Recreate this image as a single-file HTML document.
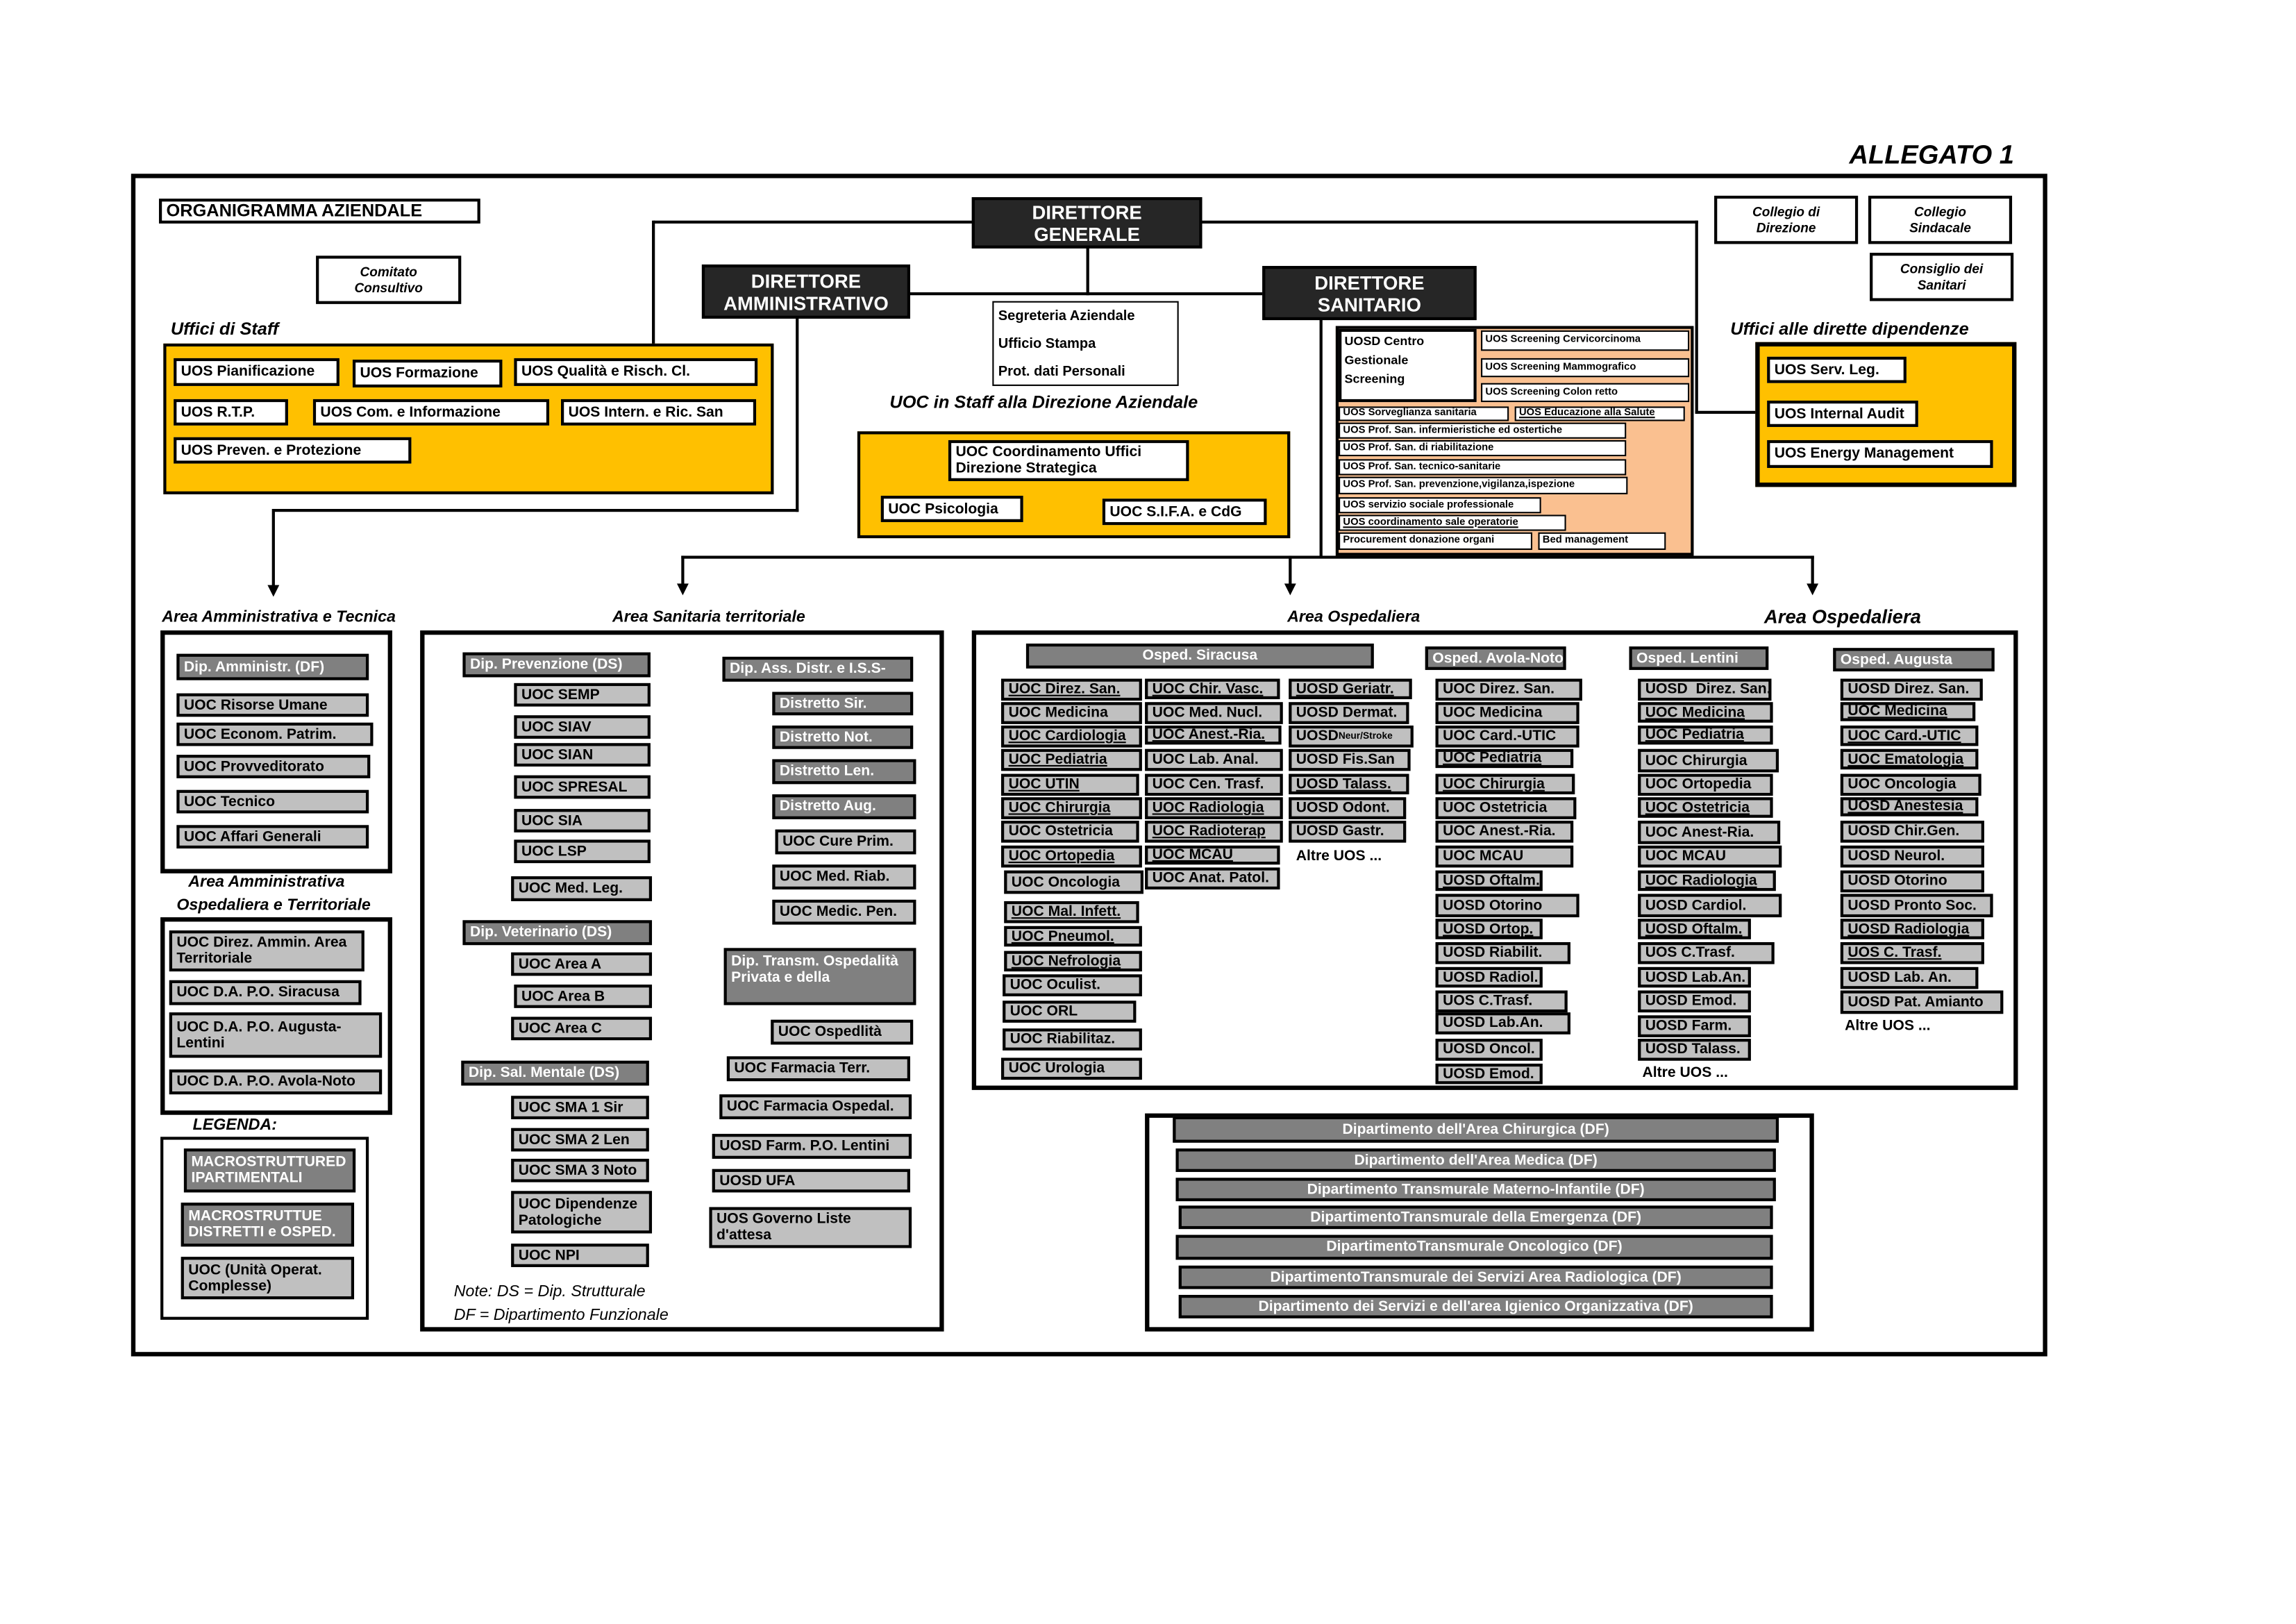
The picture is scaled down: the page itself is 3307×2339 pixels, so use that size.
<!DOCTYPE html>
<html><head><meta charset="utf-8">
<style>
html,body{margin:0;padding:0;width:3307px;height:2339px;overflow:hidden;background:#fff}
#s{position:absolute;left:0;top:0;width:1559px;height:1103px;transform:translate(-3.5px,-2.7px) scale(2.1133,2.108);transform-origin:0 0}
.a{position:absolute;box-sizing:border-box}
.g,.d,.w,.k,.y{position:absolute;box-sizing:border-box;border:2px solid #000;font:bold 10px/11px "Liberation Sans",Arial,sans-serif;padding:0 3px;white-space:nowrap;overflow:hidden;display:flex;align-items:center}
.g{background:#c0c0c0}
.d{background:#808080;color:#fff}
.w{background:#fff}
.k{background:#262626;color:#fff;font-size:13px;line-height:15px;justify-content:center;text-align:center;white-space:normal}
.y{background:#ffc000;border-width:2px;display:block;padding:0}
.c{justify-content:center;text-align:center}
.m{white-space:normal}
.t{position:absolute;font:italic bold 11px/1 "Liberation Sans",Arial,sans-serif;white-space:nowrap}
.l{position:absolute;background:#000}
.s{font-size:7px;line-height:8px;border-width:1.5px;padding:0 2px}
.ar{position:absolute;width:0;height:0;border-left:4px solid transparent;border-right:4px solid transparent;border-top:8px solid #000}
.u{text-decoration:underline}
</style></head><body><div id="s">

<div class="t" style="left:1262px;top:98px;font-size:18px">ALLEGATO 1</div>
<div class="a" style="left:91px;top:120px;width:1306px;height:808px;border:3px solid #000"></div>

<!-- lines -->
<div class="l" style="left:447px;top:152px;width:712px;height:2px"></div>
<div class="l" style="left:446px;top:152px;width:2px;height:86px"></div>
<div class="l" style="left:1157px;top:152px;width:2px;height:132px"></div>
<div class="l" style="left:1157px;top:282px;width:42px;height:2px"></div>
<div class="l" style="left:742px;top:170px;width:2px;height:33px"></div>
<div class="l" style="left:622px;top:201px;width:240px;height:2px"></div>
<div class="l" style="left:544px;top:218px;width:2px;height:133px"></div>
<div class="l" style="left:188px;top:349px;width:358px;height:2px"></div>
<div class="l" style="left:187px;top:349px;width:2px;height:54px"></div>
<div class="ar" style="left:184px;top:401px"></div>
<div class="l" style="left:901px;top:218px;width:2px;height:164px"></div>
<div class="l" style="left:466px;top:381px;width:772px;height:2px"></div>
<div class="l" style="left:466px;top:381px;width:2px;height:20px"></div>
<div class="ar" style="left:463px;top:400px"></div>
<div class="l" style="left:880px;top:381px;width:2px;height:20px"></div>
<div class="ar" style="left:877px;top:400px"></div>
<div class="l" style="left:1236px;top:381px;width:2px;height:20px"></div>
<div class="ar" style="left:1233px;top:400px"></div>

<!-- top -->
<div class="w" style="left:110px;top:137px;width:219px;height:17px;font-size:12px">ORGANIGRAMMA AZIENDALE</div>
<div class="k" style="left:664px;top:136px;width:157px;height:35px">DIRETTORE<br>GENERALE</div>
<div class="w c m" style="left:217px;top:176px;width:99px;height:33px;font-style:italic;font-size:9px">Comitato<br>Consultivo</div>
<div class="w c m" style="left:1170px;top:135px;width:98px;height:33px;font-style:italic;font-size:9px">Collegio di<br>Direzione</div>
<div class="w c m" style="left:1275px;top:135px;width:98px;height:33px;font-style:italic;font-size:9px">Collegio<br>Sindacale</div>
<div class="w c m" style="left:1276px;top:174px;width:98px;height:33px;font-style:italic;font-size:9px">Consiglio dei<br>Sanitari</div>
<div class="k" style="left:480px;top:182px;width:142px;height:37px">DIRETTORE<br>AMMINISTRATIVO</div>
<div class="k" style="left:862px;top:183px;width:146px;height:37px">DIRETTORE<br>SANITARIO</div>
<div class="w m" style="left:678px;top:207px;width:127px;height:58px;font-size:9.5px;line-height:19px;display:block;border-width:1.5px">Segreteria Aziendale<br>Ufficio Stampa<br>Prot. dati Personali</div>
<div class="t" style="left:608px;top:270px;font-size:12px">UOC in Staff alla Direzione Aziendale</div>

<div class="y" style="left:586px;top:296px;width:295px;height:73px"></div>
<div class="w m" style="left:648px;top:302px;width:164px;height:28px">UOC Coordinamento Uffici Direzione Strategica</div>
<div class="w" style="left:602px;top:340px;width:97px;height:18px">UOC Psicologia</div>
<div class="w" style="left:753px;top:342px;width:112px;height:18px">UOC S.I.F.A. e CdG</div>

<div class="t" style="left:118px;top:220px;font-size:12px">Uffici di Staff</div>
<div class="y" style="left:113px;top:236px;width:416px;height:103px"></div>
<div class="w" style="left:120px;top:246px;width:113px;height:19px">UOS Pianificazione</div>
<div class="w" style="left:242px;top:247px;width:102px;height:19px">UOS Formazione</div>
<div class="w" style="left:352px;top:246px;width:166px;height:19px">UOS Qualità e Risch. Cl.</div>
<div class="w" style="left:120px;top:274px;width:78px;height:18px">UOS R.T.P.</div>
<div class="w" style="left:215px;top:274px;width:161px;height:18px">UOS Com. e Informazione</div>
<div class="w" style="left:384px;top:274px;width:133px;height:18px">UOS Intern. e Ric. San</div>
<div class="w" style="left:120px;top:300px;width:162px;height:18px">UOS Preven. e Protezione</div>

<div class="t" style="left:1181px;top:220px;font-size:12px">Uffici alle dirette dipendenze</div>
<div class="y" style="left:1198px;top:235px;width:178px;height:99px;border-width:3px"></div>
<div class="w" style="left:1206px;top:245px;width:95px;height:18px">UOS Serv. Leg.</div>
<div class="w" style="left:1206px;top:275px;width:103px;height:18px">UOS Internal Audit</div>
<div class="w" style="left:1206px;top:302px;width:154px;height:19px">UOS Energy Management</div>

<!-- orange -->
<div class="a" style="left:912px;top:224px;width:244px;height:157px;background:#fac090;border:2px solid #000"></div>
<div class="w m" style="left:914px;top:226px;width:94px;height:50px;font-size:8.5px;line-height:13px;display:block;padding:0 2px">UOSD Centro Gestionale Screening</div>
<div class="w s" style="left:1011px;top:227px;width:142px;height:14px">UOS Screening Cervicorcinoma</div>
<div class="w s" style="left:1011px;top:246px;width:142px;height:13px">UOS Screening Mammografico</div>
<div class="w s" style="left:1011px;top:263px;width:142px;height:13px">UOS Screening Colon retto</div>
<div class="w s" style="left:914px;top:279px;width:116px;height:10px">UOS Sorveglianza sanitaria</div>
<div class="w s u" style="left:1034px;top:279px;width:116px;height:10px">UOS Educazione alla Salute</div>
<div class="w s" style="left:914px;top:290px;width:196px;height:11px">UOS Prof. San. infermieristiche ed ostertiche</div>
<div class="w s" style="left:914px;top:302px;width:196px;height:11px">UOS Prof. San. di riabilitazione</div>
<div class="w s" style="left:914px;top:315px;width:196px;height:11px">UOS Prof. San. tecnico-sanitarie</div>
<div class="w s" style="left:914px;top:327px;width:197px;height:12px">UOS Prof. San. prevenzione,vigilanza,ispezione</div>
<div class="w s" style="left:914px;top:341px;width:138px;height:11px">UOS servizio sociale professionale</div>
<div class="w s u" style="left:914px;top:353px;width:155px;height:11px">UOS coordinamento sale operatorie</div>
<div class="w s" style="left:914px;top:365px;width:132px;height:12px">Procurement donazione organi</div>
<div class="w s" style="left:1050px;top:365px;width:87px;height:12px">Bed management</div>

<!-- area labels -->
<div class="t" style="left:112px;top:418px">Area Amministrativa e Tecnica</div>
<div class="t" style="left:419px;top:418px">Area Sanitaria territoriale</div>
<div class="t" style="left:879px;top:418px">Area Ospedaliera</div>
<div class="t" style="left:1204px;top:416px;font-size:13px">Area Ospedaliera</div>

<!-- left column -->
<div class="a" style="left:111px;top:432px;width:158px;height:166px;border:3px solid #000"></div>
<div class="d" style="left:122px;top:448px;width:131px;height:18px">Dip. Amministr. (DF)</div>
<div class="g" style="left:122px;top:475px;width:131px;height:16px">UOC Risorse Umane</div>
<div class="g" style="left:122px;top:495px;width:134px;height:16px">UOC Econom. Patrim.</div>
<div class="g" style="left:122px;top:517px;width:132px;height:16px">UOC Provveditorato</div>
<div class="g" style="left:122px;top:541px;width:131px;height:16px">UOC Tecnico</div>
<div class="g" style="left:122px;top:565px;width:131px;height:16px">UOC Affari Generali</div>
<div class="t" style="left:130px;top:599px">Area Amministrativa</div>
<div class="t" style="left:122px;top:615px">Ospedaliera e Territoriale</div>
<div class="a" style="left:111px;top:628px;width:158px;height:135px;border:3px solid #000"></div>
<div class="g m" style="left:117px;top:637px;width:133px;height:28px">UOC Direz. Ammin. Area Territoriale</div>
<div class="g" style="left:117px;top:671px;width:131px;height:17px">UOC D.A. P.O. Siracusa</div>
<div class="g m" style="left:117px;top:693px;width:145px;height:31px">UOC D.A. P.O. Augusta-Lentini</div>
<div class="g" style="left:117px;top:732px;width:145px;height:17px">UOC D.A. P.O. Avola-Noto</div>
<div class="t" style="left:133px;top:765px">LEGENDA:</div>
<div class="a" style="left:111px;top:778px;width:142px;height:125px;border:2px solid #000"></div>
<div class="d m" style="left:127px;top:786px;width:117px;height:30px">MACROSTRUTTURED IPARTIMENTALI</div>
<div class="d m" style="left:125px;top:823px;width:118px;height:30px">MACROSTRUTTUE DISTRETTI e OSPED.</div>
<div class="g m" style="left:125px;top:860px;width:118px;height:29px">UOC (Unità Operat. Complesse)</div>

<!-- sanitaria territoriale -->
<div class="a" style="left:288px;top:432px;width:357px;height:479px;border:3px solid #000"></div>
<div class="d" style="left:317px;top:447px;width:128px;height:17px">Dip. Prevenzione (DS)</div>
<div class="g" style="left:352px;top:468px;width:93px;height:16px">UOC SEMP</div>
<div class="g" style="left:352px;top:490px;width:93px;height:16px">UOC SIAV</div>
<div class="g" style="left:352px;top:509px;width:93px;height:16px">UOC SIAN</div>
<div class="g" style="left:352px;top:531px;width:93px;height:16px">UOC SPRESAL</div>
<div class="g" style="left:352px;top:554px;width:93px;height:16px">UOC SIA</div>
<div class="g" style="left:352px;top:575px;width:93px;height:16px">UOC LSP</div>
<div class="g" style="left:350px;top:600px;width:96px;height:17px">UOC Med. Leg.</div>
<div class="d" style="left:317px;top:630px;width:129px;height:17px">Dip. Veterinario (DS)</div>
<div class="g" style="left:350px;top:652px;width:96px;height:16px">UOC Area A</div>
<div class="g" style="left:352px;top:674px;width:94px;height:16px">UOC Area B</div>
<div class="g" style="left:350px;top:696px;width:96px;height:16px">UOC Area C</div>
<div class="d" style="left:316px;top:726px;width:128px;height:17px">Dip. Sal. Mentale (DS)</div>
<div class="g" style="left:350px;top:750px;width:94px;height:16px">UOC SMA 1 Sir</div>
<div class="g" style="left:350px;top:772px;width:94px;height:16px">UOC SMA 2 Len</div>
<div class="g" style="left:350px;top:793px;width:94px;height:16px">UOC SMA 3 Noto</div>
<div class="g m" style="left:350px;top:815px;width:96px;height:29px">UOC Dipendenze Patologiche</div>
<div class="g" style="left:350px;top:851px;width:94px;height:16px">UOC NPI</div>
<div class="t" style="left:311px;top:879px;font-weight:normal">Note: DS = Dip. Strutturale</div>
<div class="t" style="left:311px;top:895px;font-weight:normal">DF = Dipartimento Funzionale</div>

<div class="d" style="left:494px;top:450px;width:130px;height:17px">Dip. Ass. Distr. e I.S.S-</div>
<div class="d" style="left:528px;top:474px;width:96px;height:16px">Distretto Sir.</div>
<div class="d" style="left:528px;top:497px;width:96px;height:16px">Distretto Not.</div>
<div class="d" style="left:528px;top:520px;width:98px;height:17px">Distretto Len.</div>
<div class="d" style="left:528px;top:544px;width:98px;height:17px">Distretto Aug.</div>
<div class="g" style="left:530px;top:568px;width:96px;height:17px">UOC Cure Prim.</div>
<div class="g" style="left:528px;top:592px;width:98px;height:17px">UOC Med. Riab.</div>
<div class="g" style="left:528px;top:616px;width:98px;height:17px">UOC Medic. Pen.</div>
<div class="d m" style="left:495px;top:649px;width:131px;height:39px;align-items:flex-start;padding-top:2px">Dip. Transm. Ospedalità Privata e della</div>
<div class="g" style="left:527px;top:698px;width:97px;height:17px">UOC Ospedlità</div>
<div class="g" style="left:497px;top:723px;width:125px;height:17px">UOC Farmacia Terr.</div>
<div class="g" style="left:492px;top:749px;width:131px;height:17px">UOC Farmacia Ospedal.</div>
<div class="g" style="left:487px;top:776px;width:136px;height:17px">UOSD Farm. P.O. Lentini</div>
<div class="g" style="left:487px;top:800px;width:135px;height:16px">UOSD UFA</div>
<div class="g m" style="left:485px;top:826px;width:138px;height:28px">UOS Governo Liste d'attesa</div>

<!-- ospedaliera -->
<div class="a" style="left:664px;top:432px;width:713px;height:314px;border:3px solid #000"></div>
<div class="d c" style="left:701px;top:441px;width:237px;height:17px">Osped. Siracusa</div>
<div class="d" style="left:973px;top:443px;width:96px;height:16px">Osped. Avola-Noto</div>
<div class="d" style="left:1112px;top:443px;width:95px;height:16px">Osped. Lentini</div>
<div class="d" style="left:1251px;top:444px;width:110px;height:16px">Osped. Augusta</div>

<div class="g u" style="left:684px;top:465px;width:96px;height:15px">UOC Direz. San.</div>
<div class="g" style="left:684px;top:481px;width:96px;height:15px">UOC Medicina</div>
<div class="g u" style="left:684px;top:497px;width:96px;height:15px">UOC Cardiologia</div>
<div class="g u" style="left:684px;top:513px;width:96px;height:15px">UOC Pediatria</div>
<div class="g u" style="left:684px;top:530px;width:94px;height:15px">UOC UTIN</div>
<div class="g u" style="left:684px;top:546px;width:96px;height:15px">UOC Chirurgia</div>
<div class="g" style="left:684px;top:562px;width:94px;height:15px">UOC Ostetricia</div>
<div class="g u" style="left:684px;top:579px;width:96px;height:15px">UOC Ortopedia</div>
<div class="g" style="left:686px;top:596px;width:95px;height:16px">UOC Oncologia</div>
<div class="g u" style="left:686px;top:617px;width:92px;height:15px">UOC Mal. Infett.</div>
<div class="g u" style="left:686px;top:634px;width:94px;height:14px">UOC Pneumol.</div>
<div class="g u" style="left:686px;top:651px;width:94px;height:14px">UOC Nefrologia</div>
<div class="g" style="left:685px;top:667px;width:95px;height:15px">UOC Oculist.</div>
<div class="g" style="left:685px;top:685px;width:91px;height:15px">UOC ORL</div>
<div class="g" style="left:685px;top:704px;width:95px;height:15px">UOC Riabilitaz.</div>
<div class="g" style="left:684px;top:724px;width:96px;height:15px">UOC Urologia</div>

<div class="g u" style="left:782px;top:465px;width:92px;height:14px">UOC Chir. Vasc.</div>
<div class="g" style="left:782px;top:481px;width:94px;height:15px">UOC Med. Nucl.</div>
<div class="g u" style="left:782px;top:497px;width:93px;height:13px">UOC Anest.-Ria.</div>
<div class="g" style="left:782px;top:513px;width:94px;height:15px">UOC Lab. Anal.</div>
<div class="g" style="left:782px;top:530px;width:94px;height:15px">UOC Cen. Trasf.</div>
<div class="g u" style="left:782px;top:546px;width:94px;height:15px">UOC Radiologia</div>
<div class="g u" style="left:782px;top:562px;width:94px;height:15px">UOC Radioterap</div>
<div class="g u" style="left:782px;top:579px;width:92px;height:13px">UOC MCAU</div>
<div class="g" style="left:782px;top:594px;width:92px;height:15px">UOC Anat. Patol.</div>

<div class="g u" style="left:880px;top:465px;width:84px;height:14px">UOSD Geriatr.</div>
<div class="g" style="left:880px;top:481px;width:82px;height:15px">UOSD Dermat.</div>
<div class="g" style="left:880px;top:497px;width:85px;height:15px">UOSD<span style="font-size:6.5px">Neur/Stroke</span></div>
<div class="g" style="left:880px;top:513px;width:83px;height:15px">UOSD Fis.San</div>
<div class="g u" style="left:880px;top:530px;width:82px;height:14px">UOSD Talass.</div>
<div class="g" style="left:880px;top:546px;width:80px;height:15px">UOSD Odont.</div>
<div class="g" style="left:880px;top:562px;width:80px;height:15px">UOSD Gastr.</div>
<div class="t" style="left:885px;top:582px;font-style:normal;font-size:10px">Altre UOS ...</div>

<div class="g" style="left:980px;top:465px;width:100px;height:15px">UOC Direz. San.</div>
<div class="g" style="left:980px;top:481px;width:98px;height:15px">UOC Medicina</div>
<div class="g" style="left:980px;top:497px;width:98px;height:15px">UOC Card.-UTIC</div>
<div class="g u" style="left:980px;top:513px;width:94px;height:13px">UOC Pediatria</div>
<div class="g u" style="left:980px;top:530px;width:95px;height:14px">UOC Chirurgia</div>
<div class="g" style="left:980px;top:546px;width:96px;height:15px">UOC Ostetricia</div>
<div class="g" style="left:980px;top:562px;width:94px;height:15px">UOC Anest.-Ria.</div>
<div class="g" style="left:980px;top:579px;width:94px;height:15px">UOC MCAU</div>
<div class="g u" style="left:980px;top:596px;width:73px;height:14px">UOSD Oftalm.</div>
<div class="g" style="left:980px;top:612px;width:98px;height:16px">UOSD Otorino</div>
<div class="g u" style="left:980px;top:629px;width:73px;height:14px">UOSD Ortop.</div>
<div class="g" style="left:980px;top:645px;width:92px;height:15px">UOSD Riabilit.</div>
<div class="g" style="left:980px;top:662px;width:73px;height:14px">UOSD Radiol.</div>
<div class="g" style="left:980px;top:678px;width:90px;height:15px">UOS C.Trasf.</div>
<div class="g" style="left:980px;top:693px;width:92px;height:15px">UOSD Lab.An.</div>
<div class="g" style="left:980px;top:711px;width:73px;height:15px">UOSD Oncol.</div>
<div class="g" style="left:980px;top:728px;width:73px;height:14px">UOSD Emod.</div>

<div class="g" style="left:1118px;top:465px;width:91px;height:15px">UOSD&nbsp; Direz. San.</div>
<div class="g u" style="left:1118px;top:481px;width:92px;height:14px">UOC Medicina</div>
<div class="g u" style="left:1118px;top:497px;width:92px;height:13px">UOC Pediatria</div>
<div class="g" style="left:1118px;top:513px;width:96px;height:16px">UOC Chirurgia</div>
<div class="g" style="left:1118px;top:530px;width:92px;height:15px">UOC Ortopedia</div>
<div class="g u" style="left:1118px;top:546px;width:92px;height:14px">UOC Ostetricia</div>
<div class="g" style="left:1118px;top:562px;width:97px;height:16px">UOC Anest-Ria.</div>
<div class="g" style="left:1118px;top:579px;width:98px;height:15px">UOC MCAU</div>
<div class="g u" style="left:1118px;top:596px;width:94px;height:14px">UOC Radiologia</div>
<div class="g" style="left:1118px;top:612px;width:98px;height:16px">UOSD Cardiol.</div>
<div class="g u" style="left:1118px;top:629px;width:77px;height:14px">UOSD Oftalm.</div>
<div class="g" style="left:1118px;top:645px;width:93px;height:15px">UOS C.Trasf.</div>
<div class="g" style="left:1118px;top:662px;width:77px;height:14px">UOSD Lab.An.</div>
<div class="g" style="left:1118px;top:678px;width:77px;height:15px">UOSD Emod.</div>
<div class="g" style="left:1118px;top:695px;width:77px;height:15px">UOSD Farm.</div>
<div class="g" style="left:1118px;top:711px;width:77px;height:15px">UOSD Talass.</div>
<div class="t" style="left:1121px;top:730px;font-style:normal;font-size:10px">Altre UOS ...</div>

<div class="g" style="left:1256px;top:465px;width:97px;height:15px">UOSD Direz. San.</div>
<div class="g u" style="left:1256px;top:481px;width:92px;height:13px">UOC Medicina</div>
<div class="g u" style="left:1256px;top:497px;width:94px;height:14px">UOC Card.-UTIC</div>
<div class="g u" style="left:1256px;top:513px;width:94px;height:14px">UOC Ematologia</div>
<div class="g" style="left:1256px;top:530px;width:96px;height:15px">UOC Oncologia</div>
<div class="g u" style="left:1256px;top:546px;width:94px;height:13px">UOSD Anestesia</div>
<div class="g" style="left:1256px;top:562px;width:98px;height:15px">UOSD Chir.Gen.</div>
<div class="g" style="left:1256px;top:579px;width:98px;height:15px">UOSD Neurol.</div>
<div class="g" style="left:1256px;top:596px;width:98px;height:15px">UOSD Otorino</div>
<div class="g" style="left:1256px;top:612px;width:104px;height:16px">UOSD Pronto Soc.</div>
<div class="g u" style="left:1256px;top:629px;width:98px;height:14px">UOSD Radiologia</div>
<div class="g u" style="left:1256px;top:645px;width:98px;height:15px">UOS C. Trasf.</div>
<div class="g" style="left:1256px;top:662px;width:94px;height:15px">UOSD Lab. An.</div>
<div class="g" style="left:1256px;top:678px;width:111px;height:16px">UOSD Pat. Amianto</div>
<div class="t" style="left:1259px;top:698px;font-style:normal;font-size:10px">Altre UOS ...</div>

<!-- dipartimenti -->
<div class="a" style="left:782px;top:762px;width:456px;height:149px;border:3px solid #000"></div>
<div class="d c" style="left:801px;top:764px;width:413px;height:18px">Dipartimento dell'Area Chirurgica (DF)</div>
<div class="d c" style="left:803px;top:786px;width:409px;height:16px">Dipartimento dell'Area Medica (DF)</div>
<div class="d c" style="left:803px;top:806px;width:409px;height:16px">Dipartimento Transmurale Materno-Infantile (DF)</div>
<div class="d c" style="left:805px;top:825px;width:405px;height:16px">DipartimentoTransmurale della Emergenza (DF)</div>
<div class="d c" style="left:803px;top:845px;width:407px;height:17px">DipartimentoTransmurale Oncologico (DF)</div>
<div class="d c" style="left:805px;top:866px;width:405px;height:16px">DipartimentoTransmurale dei Servizi Area Radiologica (DF)</div>
<div class="d c" style="left:805px;top:886px;width:405px;height:16px">Dipartimento dei Servizi e dell'area Igienico Organizzativa (DF)</div>

</div></body></html>
